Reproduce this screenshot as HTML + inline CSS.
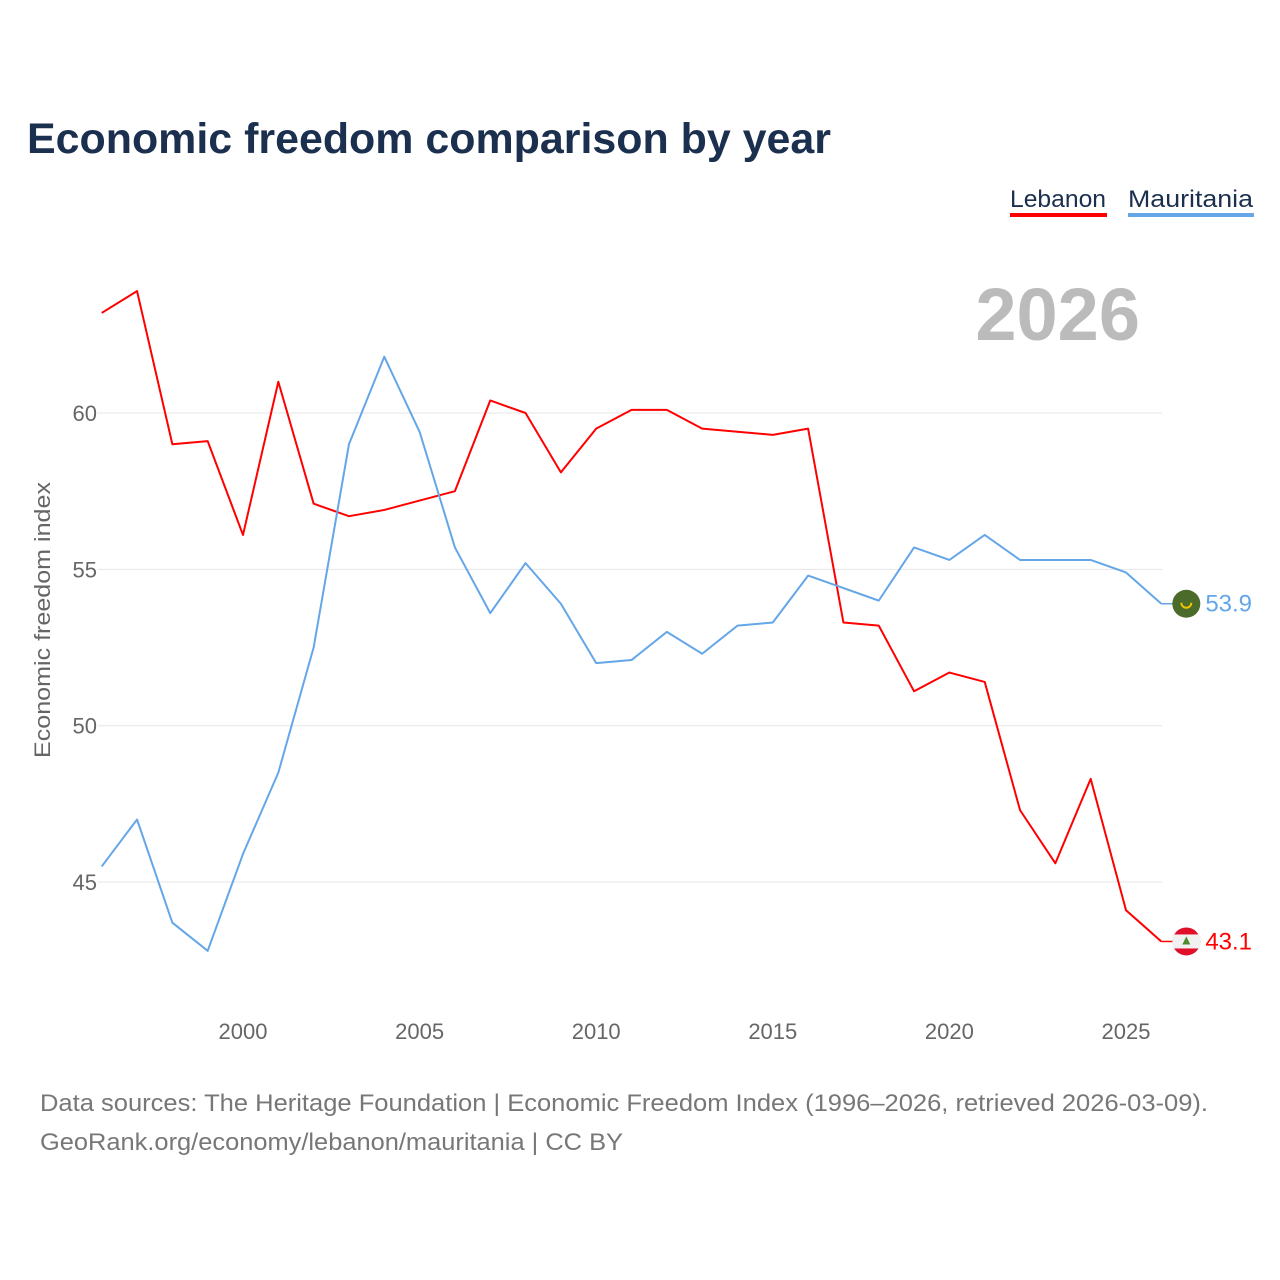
<!DOCTYPE html>
<html><head><meta charset="utf-8"><style>
body{margin:0;background:#fff;font-family:"Liberation Sans",sans-serif;}
#wrap{position:relative;width:1280px;height:1280px;overflow:hidden;}
</style></head><body>
<div id="wrap">
<svg id="chart" width="1280" height="1280">
<text x="27" y="153" font-size="43" font-weight="bold" fill="#1b2f4e" textLength="804" lengthAdjust="spacingAndGlyphs">Economic freedom comparison by year</text>
<g>
<text x="1010" y="207" font-size="24" fill="#1b2f4e" textLength="96" lengthAdjust="spacingAndGlyphs">Lebanon</text>
<rect x="1010" y="213" width="97" height="4" fill="#ff0000"/></g>
<g>
<text x="1128" y="207" font-size="24" fill="#1b2f4e" textLength="125" lengthAdjust="spacingAndGlyphs">Mauritania</text>
<rect x="1128" y="213" width="126" height="4" fill="#64a6e8"/></g>
<text x="1140" y="340" font-size="74" font-weight="bold" fill="#bbbbbb" text-anchor="end">2026</text>
<text transform="translate(50,620) rotate(-90)" font-size="22" fill="#666" text-anchor="middle" textLength="276" lengthAdjust="spacingAndGlyphs">Economic freedom index</text>
<g id="grid"></g><g id="xt"></g><g id="lines"></g><g id="ends"></g>
<text x="40" y="1111" font-size="24" fill="#777" textLength="1168" lengthAdjust="spacingAndGlyphs">Data sources: The Heritage Foundation | Economic Freedom Index (1996–2026, retrieved 2026-03-09).</text>
<text x="40" y="1150" font-size="24" fill="#777" textLength="583" lengthAdjust="spacingAndGlyphs">GeoRank.org/economy/lebanon/mauritania | CC BY</text>
</svg></div>
<script>
const years=[1996,1997,1998,1999,2000,2001,2002,2003,2004,2005,2006,2007,2008,2009,2010,2011,2012,2013,2014,2015,2016,2017,2018,2019,2020,2021,2022,2023,2024,2025,2026];
const lebanon=[63.2,63.9,59.0,59.1,56.1,61.0,57.1,56.7,56.9,57.2,57.5,60.4,60.0,58.1,59.5,60.1,60.1,59.5,59.4,59.3,59.5,53.3,53.2,51.1,51.7,51.4,47.3,45.6,48.3,44.1,43.1];
const mauritania=[45.5,47.0,43.7,42.8,45.9,48.5,52.5,59.0,61.8,59.4,55.7,53.6,55.2,53.9,52.0,52.1,53.0,52.3,53.2,53.3,54.8,54.4,54.0,55.7,55.3,56.1,55.3,55.3,55.3,54.9,53.9];
const yTicks=[45,50,55,60];
const xTicks=[2000,2005,2010,2015,2020,2025];
const X=y=>243+(y-2000)*35.32;
const Y=v=>413+(60-v)*31.27;
const NS="http://www.w3.org/2000/svg";
function mk(t,a,p){const e=document.createElementNS(NS,t);for(const k in a)e.setAttribute(k,a[k]);p.appendChild(e);return e;}
const g=document.getElementById('grid');
yTicks.forEach(v=>{
 const l=mk('line',{x1:98,x2:1162,y1:Y(v),y2:Y(v),stroke:'#e6e6e6','stroke-width':1},g);
 
 
 const t=mk('text',{x:97,y:Y(v)+8,'font-size':22,fill:'#666','text-anchor':'end'},g);t.textContent=v;
 
 
});
const xt=document.getElementById('xt');
xTicks.forEach(v=>{
 const t=mk('text',{x:X(v),y:1039,'font-size':22,fill:'#666','text-anchor':'middle'},xt);t.textContent=v;
 
 
});
const L=document.getElementById('lines');
function line(d,c,n){
 const p=mk('polyline',{points:d.map((v,i)=>X(years[i])+','+Y(v)).join(' '),fill:'none',stroke:c,'stroke-width':2,'stroke-linejoin':'round'},L);
 
 
}
line(lebanon,'#ff0000','line-lebanon');
line(mauritania,'#64a6e8','line-mauritania');
const E=document.getElementById('ends');
function end(d,c,n,flag){
 const v=d[d.length-1],x=X(years[years.length-1]),y=Y(v);
 mk('line',{x1:x,x2:x+12,y1:y,y2:y,stroke:c,'stroke-width':1.5},E);
 const gg=mk('g',{},E);
 
 
 if(flag==='mr'){
  mk('circle',{cx:x+25,cy:y,r:14,fill:'#4b6b2a'},gg);
  mk('path',{d:`M${x+20} ${y-1} A5 5 0 0 0 ${x+30} ${y-1}`,stroke:'#f2c500',fill:'none','stroke-width':2},gg);
 }else{
  mk('circle',{cx:x+25,cy:y,r:14,fill:'#e0102a'},gg);
  mk('rect',{x:x+11,y:y-7,width:28,height:14,fill:'#f1f1f1'},gg);
  mk('path',{d:`M${x+25} ${y-5} L${x+29} ${y+3} L${x+21} ${y+3}Z`,fill:'#4f8a2a'},gg);
 }
 const t=mk('text',{x:x+44,y:y+8,'font-size':24,fill:c},E);t.textContent=v.toFixed(1);
 
 
}
end(mauritania,'#64a6e8','mauritania','mr');
end(lebanon,'#ff0000','lebanon','lb');
</script>
</body></html>
